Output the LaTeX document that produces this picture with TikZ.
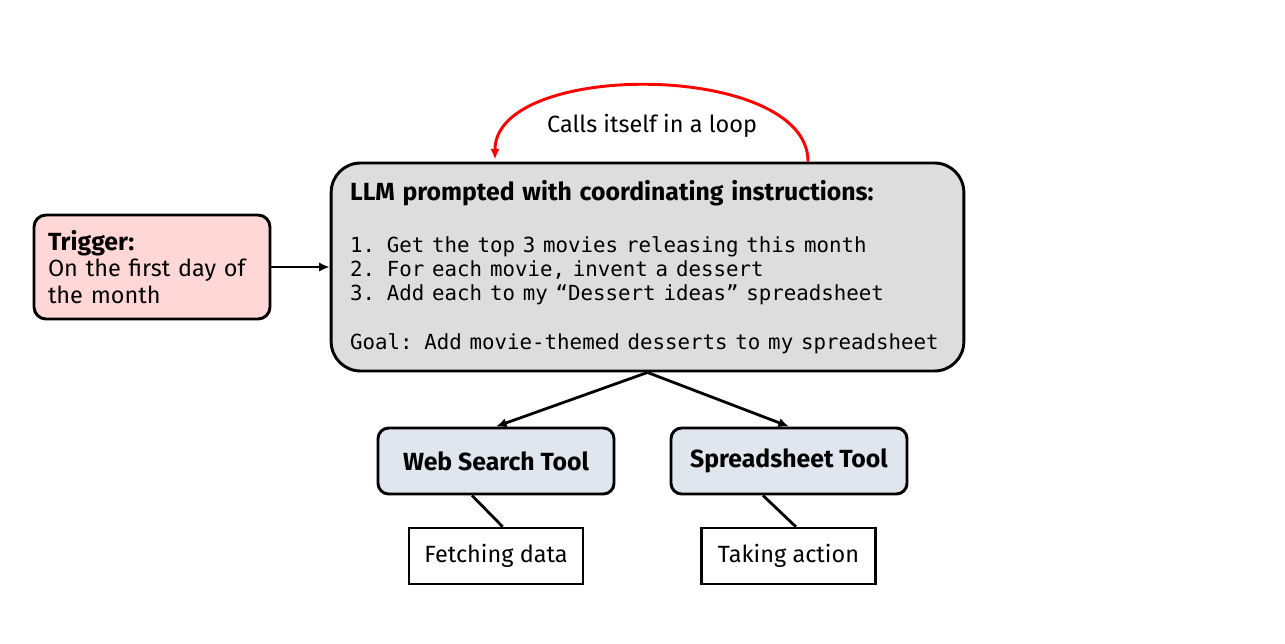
\documentclass[tikz,border=0pt]{standalone}
\usepackage{fontspec}
\setmainfont{Fira Sans}
\setmonofont[Scale=0.885]{DejaVu Sans Mono}
\usetikzlibrary{arrows.meta,calc}
\definecolor{triggerpink}{HTML}{FFD7D7}
\definecolor{llmgray}{HTML}{DDDDDD}
\definecolor{toolblue}{HTML}{DFE6EE}

\begin{document}
\begin{tikzpicture}[
    x=0.75pt, y=-0.75pt,
    box/.style={draw=black, line width=2.2pt, inner ysep=0pt},
    trigger/.style={box, rounded corners=9pt, fill=triggerpink, align=left, text width=156pt, inner xsep=10.5pt, minimum height=78pt, font=\fontsize{17.6}{20}\selectfont},
    llm/.style={box, rounded corners=22pt, fill=llmgray, align=left, text width=446pt, inner xsep=14.25pt, minimum height=156pt, font=\fontsize{17.6}{18}\selectfont},
    tool/.style={box, rounded corners=8pt, fill=toolblue, minimum width=177pt, minimum height=49.5pt, font=\fontsize{18.6}{20}\selectfont\bfseries},
    note/.style={draw=black, line width=1.9pt, minimum width=130.5pt, minimum height=42pt, font=\fontsize{17.6}{20}\selectfont},
    link/.style={line width=2.1pt},
    flow/.style={link, -{Latex[length=8pt,width=7pt]}},
    selfcall/.style={line width=2.2pt, red, -{Latex[length=8pt,width=7pt]}}
]
\useasboundingbox (0,0) rectangle (1285,643);
\node[trigger] (trig) at (152,267) {{\fontsize{18.6}{20}\selectfont\bfseries Trigger:}\\On the first day of\\the month};
\node[llm] (llm) at (647.5,267) {{\fontsize{18.6}{18}\selectfont\bfseries LLM prompted with coordinating instructions:}\\[21pt]
\texttt{1. Get the top 3 movies releasing this month}\\
\texttt{2. For each movie, invent a dessert}\\
\texttt{3. Add each to my “Dessert ideas” spreadsheet}\\[18.75pt]
\texttt{Goal: Add movie-themed desserts to my spreadsheet}};
\node[tool] (web) at (496,461) {Web Search Tool};
\node[tool] (sheet) at (789,461) {Spreadsheet Tool};
\node[note] (fetch) at (496,556) {Fetching data};
\node[note] (act) at (788.5,556) {Taking action};
\coordinate (loopstart) at ([xshift=120.4pt]llm.north);
\coordinate (loopend) at ([xshift=-114.4pt,yshift=1.5pt]llm.north);
\draw[selfcall] (loopstart) .. controls +(0,-100) and +(0,-100) .. (loopend);
\node[font=\fontsize{17.6}{20}\selectfont] (looplabel) at (652,126) {Calls itself in a loop};
\draw[flow] (trig) -- (llm);
\draw[flow] (llm.south) -- (web.north);
\draw[flow] (llm.south) -- (sheet.north);
\draw[link] ([xshift=-18pt]web.south) -- ([xshift=5pt]fetch.north);
\draw[link] ([xshift=-19.5pt]sheet.south) -- ([xshift=5.5pt]act.north);
\end{tikzpicture}
\end{document}
